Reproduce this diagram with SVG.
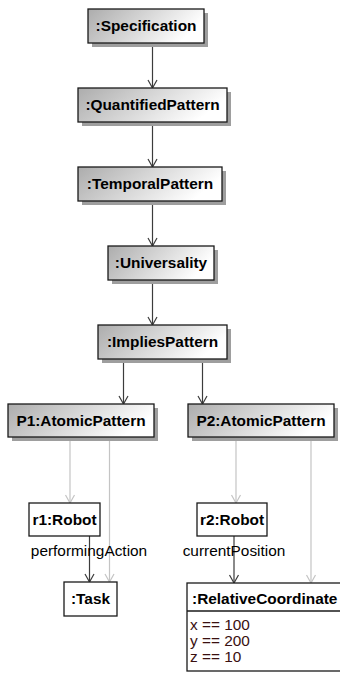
<svg xmlns="http://www.w3.org/2000/svg" width="340" height="675" viewBox="0 0 340 675">
<style>
.box{stroke:#1a1a1a;stroke-width:1.3;fill:url(#g)}
.plain{stroke:#1a1a1a;stroke-width:1.3;fill:#ffffff}
.sh{fill:#9e9e9e}
.t{font-family:"Liberation Sans",Arial,sans-serif;font-size:15.4px;font-weight:bold;fill:#000;text-anchor:middle}
.lbl{font-family:"Liberation Sans",Arial,sans-serif;font-size:15.4px;fill:#000;text-anchor:middle}
.attr{font-family:"Liberation Sans",Arial,sans-serif;font-size:15.4px;fill:#3a1010}
.dk{stroke:#3c3c3c;stroke-width:1.2;fill:none;marker-end:url(#ad)}
.lt{stroke:#c4c4c4;stroke-width:1.2;fill:none;marker-end:url(#al)}
</style>
<defs>
<linearGradient id="g" x1="0" y1="0" x2="1" y2="0.3">
<stop offset="0" stop-color="#acacac"/>
<stop offset="1" stop-color="#ffffff"/>
</linearGradient>
<marker id="ad" markerWidth="12" markerHeight="12" refX="10" refY="6" orient="auto" markerUnits="userSpaceOnUse">
<path d="M2,1.5 L10,6 L2,10.5" fill="none" stroke="#3c3c3c" stroke-width="1.2"/>
</marker>
<marker id="al" markerWidth="12" markerHeight="12" refX="10" refY="6" orient="auto" markerUnits="userSpaceOnUse">
<path d="M2,1.5 L10,6 L2,10.5" fill="none" stroke="#c4c4c4" stroke-width="1.2"/>
</marker>
</defs>
<g id="connectors">
<line class="dk" x1="152.5" y1="43" x2="152.5" y2="88"/>
<line class="dk" x1="152.5" y1="122" x2="152.5" y2="167"/>
<line class="dk" x1="152.5" y1="201" x2="152.5" y2="246"/>
<line class="dk" x1="152.5" y1="280" x2="152.5" y2="325"/>
<line class="dk" x1="123.5" y1="359" x2="123.5" y2="404"/>
<line class="dk" x1="202.5" y1="359" x2="202.5" y2="404"/>
<line class="lt" x1="70" y1="437" x2="70" y2="503"/>
<line class="lt" x1="109.5" y1="437" x2="109.5" y2="582"/>
<line class="lt" x1="236" y1="437" x2="236" y2="503"/>
<line class="lt" x1="311" y1="437" x2="311" y2="583"/>
<line class="dk" x1="89.5" y1="536" x2="89.5" y2="582"/>
<line class="dk" x1="234" y1="536" x2="234" y2="583"/>
<text class="lbl" x="89" y="556">performingAction</text>
<text class="lbl" x="234" y="556">currentPosition</text>
</g>
<g id="spec">
<rect class="sh" x="92" y="13" width="116" height="34"/>
<rect class="box" x="88" y="9" width="116" height="34"/>
<text class="t" x="146" y="31">:Specification</text>
</g>
<g id="quantified">
<rect class="sh" x="82" y="92" width="149" height="34"/>
<rect class="box" x="78" y="88" width="149" height="34"/>
<text class="t" x="152.5" y="110">:QuantifiedPattern</text>
</g>
<g id="temporal">
<rect class="sh" x="82" y="171" width="144" height="34"/>
<rect class="box" x="78" y="167" width="144" height="34"/>
<text class="t" x="150" y="189">:TemporalPattern</text>
</g>
<g id="universality">
<rect class="sh" x="112" y="250" width="106" height="34"/>
<rect class="box" x="108" y="246" width="106" height="34"/>
<text class="t" x="161" y="268">:Universality</text>
</g>
<g id="implies">
<rect class="sh" x="102" y="329" width="129" height="34"/>
<rect class="box" x="98" y="325" width="129" height="34"/>
<text class="t" x="162.5" y="347">:ImpliesPattern</text>
</g>
<g id="p1">
<rect class="sh" x="12" y="408" width="146" height="33"/>
<rect class="box" x="8" y="404" width="146" height="33"/>
<text class="t" x="81" y="426">P1:AtomicPattern</text>
</g>
<g id="p2">
<rect class="sh" x="192" y="408" width="146" height="33"/>
<rect class="box" x="188" y="404" width="146" height="33"/>
<text class="t" x="261" y="426">P2:AtomicPattern</text>
</g>
<g id="r1">
<rect class="plain" x="29" y="503" width="71" height="33"/>
<text class="t" x="64.5" y="525">r1:Robot</text>
</g>
<g id="r2">
<rect class="plain" x="197" y="503" width="70" height="33"/>
<text class="t" x="232" y="525">r2:Robot</text>
</g>
<g id="task">
<rect class="plain" x="64" y="582" width="53" height="34"/>
<text class="t" x="90.5" y="604">:Task</text>
</g>
<g id="relcoord">
<rect class="plain" x="187" y="583" width="160" height="88"/>
<line x1="187" y1="611" x2="347" y2="611" stroke="#1a1a1a" stroke-width="1.3"/>
<text class="t" x="192" y="604" style="text-anchor:start">:RelativeCoordinate</text>
<text class="attr" x="190" y="630">x == 100</text>
<text class="attr" x="190" y="646">y == 200</text>
<text class="attr" x="190" y="662">z == 10</text>
</g>
</svg>
